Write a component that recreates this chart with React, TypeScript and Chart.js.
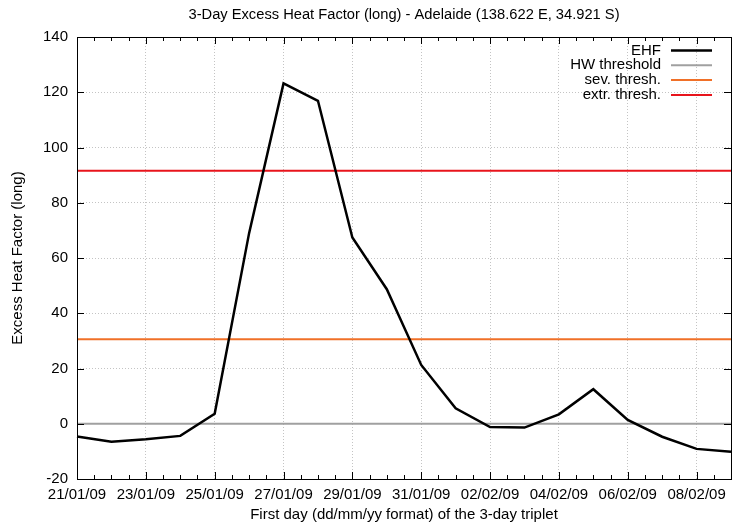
import React, { useEffect, useRef } from 'react';
import { Chart, registerables } from 'chart.js';

Chart.register(...registerables);

const TITLE = '3-Day Excess Heat Factor (long) - Adelaide (138.622 E, 34.921 S)';
const X_TITLE = 'First day (dd/mm/yy format) of the 3-day triplet';
const Y_TITLE = 'Excess Heat Factor (long)';

const dates = [
  '21/01/09', '22/01/09', '23/01/09', '24/01/09', '25/01/09', '26/01/09', '27/01/09',
  '28/01/09', '29/01/09', '30/01/09', '31/01/09', '01/02/09', '02/02/09', '03/02/09',
  '04/02/09', '05/02/09', '06/02/09', '07/02/09', '08/02/09', '09/02/09',
];
const ehf = [
  -4.6, -6.5, -5.6, -4.4, 3.6, 69.0, 123.2, 116.9, 67.4, 48.7,
  21.3, 5.6, -1.2, -1.4, 3.4, 12.5, 1.4, -4.7, -9.1, -10.1,
];
const hwThreshold = 0;
const sevThreshold = 30.6;
const extrThreshold = 91.6;

const seriesNames = ['EHF', 'HW threshold', 'sev. thresh.', 'extr. thresh.'];
const seriesColors = ['#000000', '#a0a0a0', '#f07028', '#e8141c'];

const yMin = -20;
const yMax = 140;
const yStep = 20;

const FONT = "'Liberation Sans', Arial, Helvetica, sans-serif";
const FS = 15;

const gnuplotPlugin = {
  id: 'gnuplotDeco',
  afterDatasetsDraw(chart: any) {
    const { ctx, chartArea } = chart;
    const { left, right, top, bottom } = chartArea;
    const xs = chart.scales.x;
    const ys = chart.scales.y;
    ctx.save();
    ctx.strokeStyle = '#000';
    ctx.lineWidth = 1;
    ctx.setLineDash([]);
    ctx.strokeRect(Math.round(left) + 0.5, Math.round(top) + 0.5, Math.round(right - left), Math.round(bottom - top));
    ctx.beginPath();
    for (let v = 0; v <= dates.length - 1 + 1e-9; v += 0.5) {
      const px = Math.round(xs.getPixelForValue(v)) + 0.5;
      const major = Math.abs(v % 2) < 1e-9;
      const len = major ? 7 : 4;
      ctx.moveTo(px, bottom);
      ctx.lineTo(px, bottom - len);
      ctx.moveTo(px, top);
      ctx.lineTo(px, top + len);
    }
    for (let v = yMin; v <= yMax; v += yStep) {
      const py = Math.round(ys.getPixelForValue(v)) + 0.5;
      ctx.moveTo(left, py);
      ctx.lineTo(left + 7, py);
      ctx.moveTo(right, py);
      ctx.lineTo(right - 7, py);
    }
    ctx.stroke();
    ctx.restore();
  },
  afterDraw(chart: any) {
    const { ctx, chartArea } = chart;
    const { left, right, top } = chartArea;
    ctx.save();
    ctx.fillStyle = '#000';
    ctx.font = `14.7px ${FONT}`;
    ctx.textAlign = 'center';
    ctx.textBaseline = 'middle';
    ctx.fillText(TITLE, (left + right) / 2, 14.5);
    ctx.font = `${FS}px ${FONT}`;
    ctx.textAlign = 'right';
    chart.data.datasets.forEach((ds: any, i: number) => {
      const y = top + 13.5 + i * 14.8;
      ctx.fillStyle = '#000';
      ctx.fillText(ds.label, right - 70, y);
      ctx.strokeStyle = ds.borderColor;
      ctx.lineWidth = ds.borderWidth;
      ctx.beginPath();
      ctx.moveTo(right - 60, y);
      ctx.lineTo(right - 19, y);
      ctx.stroke();
    });
    ctx.restore();
  },
};

export default function App() {
  const ref = useRef<HTMLCanvasElement>(null);
  useEffect(() => {
    document.body.style.margin = '0';
    const chart = new Chart(ref.current as HTMLCanvasElement, {
      type: 'line',
      data: {
        labels: dates,
        datasets: [
          {
            label: seriesNames[0],
            data: ehf,
            borderColor: seriesColors[0],
            borderWidth: 2.5,
            pointRadius: 0,
            tension: 0,
            order: 0,
          },
          {
            label: seriesNames[1],
            data: dates.map(() => hwThreshold),
            borderColor: seriesColors[1],
            borderWidth: 2,
            pointRadius: 0,
            order: 1,
          },
          {
            label: seriesNames[2],
            data: dates.map(() => sevThreshold),
            borderColor: seriesColors[2],
            borderWidth: 2,
            pointRadius: 0,
            order: 1,
          },
          {
            label: seriesNames[3],
            data: dates.map(() => extrThreshold),
            borderColor: seriesColors[3],
            borderWidth: 2,
            pointRadius: 0,
            order: 1,
          },
        ],
      },
      options: {
        responsive: false,
        animation: false,
        layout: { padding: { top: 37, right: 2, left: 0, bottom: 0 } },
        plugins: {
          legend: { display: false },
          title: { display: false },
          tooltip: { enabled: false },
        },
        scales: {
          x: {
            type: 'category',
            offset: false,
            grid: {
              drawTicks: false,
              color: (c: any) => (c.index % 2 === 0 && c.index > 0 ? '#c4c4c4' : 'rgba(0,0,0,0)'),
              lineWidth: 1,
            },
            border: { display: false, dash: [1, 2] },
            ticks: {
              autoSkip: false,
              maxRotation: 0,
              padding: 7,
              color: '#000',
              font: { family: FONT, size: FS },
              callback: (_v: any, i: number) => (i % 2 === 0 ? dates[i] : ''),
            },
            title: {
              display: true,
              text: X_TITLE,
              color: '#000',
              font: { family: FONT, size: FS },
              padding: { top: 0, bottom: 3 },
            },
            afterFit: (s: any) => { s.height = 48; },
          },
          y: {
            type: 'linear',
            min: yMin,
            max: yMax,
            grid: {
              drawTicks: false,
              color: (c: any) => {
                const v = c.tick ? c.tick.value : 0;
                return v === yMin || v === yMax ? 'rgba(0,0,0,0)' : '#c4c4c4';
              },
              lineWidth: 1,
            },
            border: { display: false, dash: [1, 2] },
            ticks: {
              stepSize: yStep,
              padding: 9,
              color: '#000',
              font: { family: FONT, size: FS },
            },
            title: {
              display: true,
              text: Y_TITLE,
              color: '#000',
              font: { family: FONT, size: FS },
              padding: { top: 9, bottom: 0 },
            },
            afterFit: (s: any) => { s.width = 77; },
          },
        },
      },
      plugins: [gnuplotPlugin],
    });
    return () => chart.destroy();
  }, []);
  return (
    <div style={{ width: 738, height: 527 }}>
      <canvas ref={ref} width={738} height={527} style={{ display: 'block' }} />
    </div>
  );
}
